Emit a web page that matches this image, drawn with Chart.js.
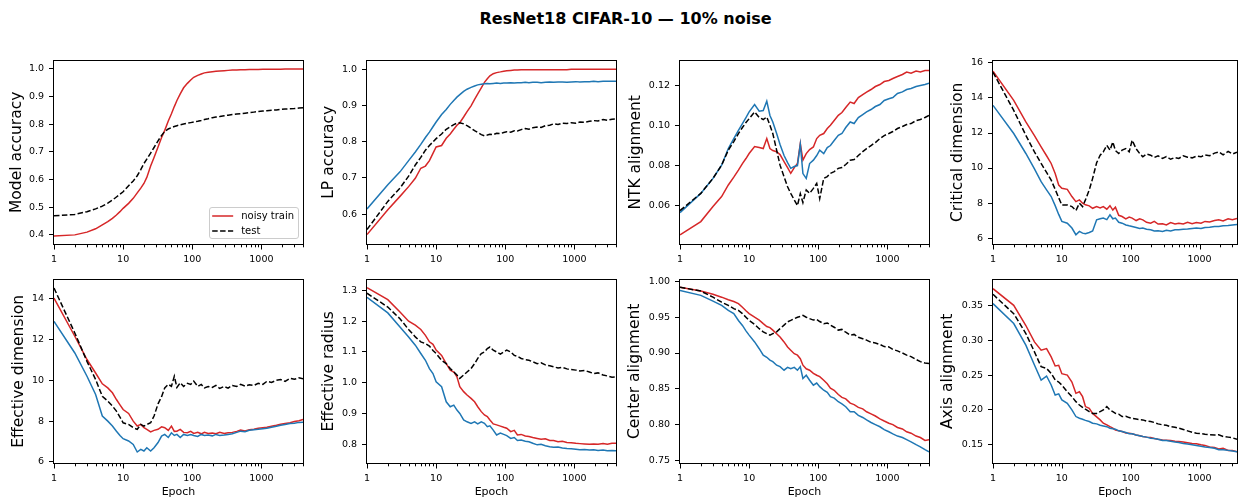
<!DOCTYPE html>
<html><head><meta charset="utf-8">
<script src="https://cdn.jsdelivr.net/npm/chart.js@4.4.1/dist/chart.umd.min.js"></script>
<style>
html,body{margin:0;padding:0;background:#fff;width:1238px;height:499px;overflow:hidden;position:relative}
#title{position:absolute;left:0;width:1251px;top:9px;text-align:center;font:bold 16px "DejaVu Sans";color:#000;line-height:20px}
canvas{position:absolute}
</style></head><body>
<div id="title">ResNet18 CIFAR-10 — 10% noise</div>
<script>
const EPOCHS = [1,2,3,4,5,6,7,8,9,10, 12,14,16,18,20, 22,25,28,32,36, 40,45,50,55,60, 67,75,85,95,105, 120,135,150,170,195, 220,250,290,330,380, 440,500,580,670,780, 900,1050,1200,1400,1650, 1900,2200,2600,3000,3500, 4000];
const X_TICK_LABELS = ['1','10','100','1000'];
const SERIES_LABELS = ['noisy train', 'test'];

const ACC_NOISY = [0.396,0.400,0.410,0.422,0.436,0.448,0.460,0.472,0.484,0.496, 0.514,0.532,0.552,0.569,0.586, 0.608,0.649,0.680,0.718,0.752, 0.778,0.812,0.838,0.864,0.886, 0.910,0.932,0.948,0.960,0.970, 0.977,0.982,0.986,0.988,0.990, 0.992,0.993,0.994,0.995,0.996, 0.996,0.997,0.997,0.998,0.998, 0.998,0.999,0.999,0.999,0.999, 0.999,1.000,1.000,1.000,1.000, 1.000];
const ACC_TEST = [0.469,0.474,0.484,0.494,0.504,0.515,0.526,0.537,0.547,0.556, 0.578,0.595,0.614,0.636,0.658, 0.674,0.696,0.716,0.740,0.760, 0.774,0.783,0.788,0.792,0.795, 0.798,0.801,0.804,0.806,0.808, 0.811,0.814,0.817,0.820,0.824, 0.826,0.828,0.831,0.833,0.835, 0.837,0.838,0.840,0.842,0.844, 0.846,0.848,0.849,0.851,0.852, 0.854,0.855,0.856,0.857,0.859, 0.860];

const LP_NOISY = [0.543,0.612,0.649,0.676,0.699,0.727,0.733,0.748,0.768,0.786, 0.790,0.810,0.822,0.835,0.846, 0.853,0.869,0.884,0.900,0.918, 0.933,0.950,0.965,0.975,0.983, 0.989,0.992,0.994,0.996,0.997, 0.998,0.999,0.999,1.000,1.000, 1.000,1.000,1.000,1.000,1.000, 1.000,1.000,1.000,1.000,1.000, 1.001,1.001,1.001,1.001,1.001, 1.001,1.001,1.001,1.001,1.001, 1.001];
const LP_CLEAN = [0.614,0.681,0.717,0.748,0.772,0.793,0.812,0.827,0.842,0.855, 0.876,0.890,0.904,0.915,0.924, 0.931,0.940,0.946,0.951,0.955, 0.958,0.960,0.961,0.962,0.961, 0.962,0.963,0.962,0.963,0.963, 0.964,0.963,0.964,0.964,0.965, 0.964,0.965,0.965,0.964,0.965, 0.966,0.965,0.966,0.966,0.965, 0.966,0.967,0.966,0.967,0.967, 0.968,0.967,0.968,0.968,0.968, 0.968];
const LP_TEST = [0.557,0.635,0.672,0.705,0.736,0.757,0.777,0.790,0.800,0.809, 0.822,0.835,0.842,0.848,0.852, 0.853,0.850,0.845,0.838,0.831, 0.826,0.820,0.817,0.819,0.821, 0.820,0.824,0.823,0.826,0.828, 0.827,0.831,0.830,0.834,0.837, 0.835,0.839,0.841,0.840,0.845, 0.846,0.850,0.848,0.852,0.851, 0.853,0.852,0.855,0.854,0.857, 0.859,0.858,0.862,0.860,0.863, 0.864];

const NTK_NOISY = [0.0454,0.0520,0.0595,0.0645,0.0703,0.0742,0.0777,0.0810,0.0835,0.0860, 0.0895,0.0890,0.0885,0.0935,0.0885, 0.0875,0.0869,0.0855,0.0820,0.0790, 0.0761,0.0790,0.0810,0.0910,0.0827, 0.0860,0.0880,0.0893,0.0935,0.0951, 0.0960,0.0985,0.1001,0.1025,0.1051, 0.1065,0.1090,0.1117,0.1110,0.1140, 0.1155,0.1167,0.1180,0.1195,0.1205, 0.1220,0.1225,0.1235,0.1245,0.1255, 0.1267,0.1262,0.1272,0.1268,0.1275, 0.1275];
const NTK_CLEAN = [0.0565,0.0661,0.0736,0.0802,0.0885,0.0935,0.0976,0.1010,0.1040,0.1068, 0.1105,0.1072,0.1075,0.1122,0.1050, 0.1018,0.0960,0.0905,0.0850,0.0815, 0.0786,0.0795,0.0800,0.0905,0.0760, 0.0736,0.0810,0.0827,0.0850,0.0877, 0.0860,0.0890,0.0900,0.0925,0.0951, 0.0960,0.0990,0.1018,0.1010,0.1040, 0.1055,0.1068,0.1080,0.1095,0.1105, 0.1125,0.1134,0.1140,0.1160,0.1168, 0.1180,0.1185,0.1195,0.1200,0.1205, 0.1212];
const NTK_TEST = [0.0575,0.0661,0.0736,0.0802,0.0877,0.0920,0.0960,0.0990,0.1015,0.1034, 0.1068,0.1040,0.1030,0.1043,0.1001, 0.0960,0.0877,0.0802,0.0744,0.0694, 0.0661,0.0628,0.0600,0.0660,0.0615, 0.0678,0.0661,0.0686,0.0711,0.0635, 0.0736,0.0745,0.0761,0.0770,0.0786, 0.0790,0.0805,0.0827,0.0830,0.0850, 0.0870,0.0885,0.0900,0.0915,0.0935, 0.0950,0.0960,0.0970,0.0985,0.0995, 0.1005,0.1010,0.1025,0.1030,0.1040, 0.1051];

const CRIT_NOISY = [15.53,13.86,12.63,11.85,11.21,10.70,10.26,9.69,9.03,8.84, 8.78,8.37,8.08,8.18,7.99, 7.90,7.84,7.70,7.80,7.72, 7.80,7.65,7.85,7.60,7.76, 7.30,7.23,7.10,7.20,7.14, 7.00,7.10,7.04,6.90,6.85, 6.95,6.80,6.81,6.75,6.88, 6.80,6.85,6.80,6.90,6.82, 6.89,6.85,6.95,6.92,7.00, 7.04,6.98,7.10,7.05,7.12, 7.14];
const CRIT_CLEAN = [13.58,11.97,10.83,9.95,9.22,8.75,8.37,7.85,7.35,6.95, 6.85,6.57,6.19,6.38,6.28, 6.25,6.32,6.40,7.04,7.10, 7.14,7.05,7.33,7.10,7.14, 6.90,6.85,6.75,6.70,6.66, 6.60,6.55,6.57,6.50,6.47, 6.40,6.42,6.38,6.45,6.40, 6.47,6.47,6.50,6.52,6.55, 6.57,6.55,6.60,6.62,6.66, 6.66,6.70,6.72,6.75,6.78, 6.81];
const CRIT_TEST = [15.47,13.29,11.87,10.92,10.26,9.75,9.31,8.78,8.30,7.89, 7.89,7.80,7.57,7.99,7.80, 8.18,8.75,9.41,10.30,10.73, 10.92,11.30,11.02,11.49,11.00, 10.83,11.02,11.11,10.92,11.59, 11.10,10.83,10.64,10.80,10.73, 10.60,10.70,10.55,10.65,10.50, 10.60,10.55,10.70,10.62,10.58, 10.68,10.64,10.75,10.70,10.85, 10.92,10.75,10.95,10.80,10.90, 10.83];

const EFFDIM_NOISY = [14.03,12.16,11.02,10.36,9.83,9.63,9.39,9.06,8.80,8.57, 8.38,8.00,7.76,7.84,7.68, 7.60,7.47,7.55,7.60,7.72, 7.68,7.55,7.76,7.50,7.51, 7.60,7.45,7.43,7.50,7.40, 7.45,7.38,7.45,7.40,7.42, 7.38,7.45,7.40,7.43,7.45, 7.50,7.56,7.52,7.58,7.60, 7.65,7.68,7.70,7.75,7.80, 7.85,7.89,7.92,7.98,8.02, 8.08];
const EFFDIM_CLEAN = [12.89,11.34,10.20,9.31,8.25,8.00,7.76,7.51,7.30,7.14, 7.03,6.86,6.49,6.62,6.54, 6.70,6.54,6.70,6.95,7.27, 7.35,7.20,7.43,7.30,7.35, 7.20,7.35,7.30,7.35,7.30, 7.25,7.35,7.30,7.32,7.28, 7.35,7.30,7.32,7.35,7.38, 7.45,7.51,7.48,7.55,7.58, 7.60,7.63,7.65,7.70,7.75, 7.80,7.84,7.88,7.90,7.94, 7.95];
const EFFDIM_TEST = [14.52,12.32,10.93,10.04,9.22,8.98,8.74,8.49,8.20,7.92, 7.84,7.68,7.60,7.84,7.76, 7.84,7.92,8.25,8.85,9.20, 9.63,9.80,9.71,10.20,9.65, 9.88,9.70,9.85,9.80,9.96, 9.70,9.80,9.63,9.70,9.65, 9.75,9.60,9.70,9.62,9.75, 9.70,9.80,9.72,9.78,9.75, 9.85,9.80,9.95,9.90,10.00, 10.04,9.95,10.10,10.05,10.12, 10.08];

const RADIUS_NOISY = [1.309,1.270,1.230,1.200,1.187,1.173,1.154,1.133,1.125,1.106, 1.089,1.062,1.041,1.035,1.019, 0.987,0.971,0.960,0.949,0.938, 0.922,0.906,0.895,0.890,0.879, 0.866,0.863,0.859,0.855,0.852, 0.841,0.845,0.830,0.832,0.827, 0.825,0.822,0.819,0.816,0.818, 0.812,0.812,0.808,0.810,0.806, 0.805,0.803,0.802,0.801,0.800, 0.801,0.800,0.802,0.800,0.803, 0.803];
const RADIUS_CLEAN = [1.278,1.227,1.181,1.149,1.122,1.095,1.073,1.046,1.030,1.003, 0.987,0.938,0.922,0.927,0.911, 0.900,0.879,0.873,0.868,0.873, 0.866,0.873,0.868,0.857,0.860, 0.846,0.830,0.836,0.832,0.828, 0.819,0.822,0.812,0.814,0.810, 0.808,0.803,0.798,0.800,0.795, 0.792,0.790,0.791,0.788,0.786, 0.785,0.784,0.782,0.783,0.781, 0.782,0.780,0.781,0.779,0.780, 0.779];
const RADIUS_TEST = [1.291,1.246,1.208,1.173,1.149,1.133,1.127,1.119,1.105,1.095, 1.073,1.062,1.046,1.035,1.025, 1.014,1.025,1.035,1.046,1.062, 1.079,1.095,1.100,1.111,1.116, 1.106,1.100,1.093,1.100,1.106, 1.100,1.089,1.086,1.079,1.075, 1.073,1.068,1.062,1.065,1.058, 1.055,1.052,1.048,1.050,1.045, 1.043,1.041,1.038,1.040,1.035, 1.030,1.032,1.025,1.022,1.018, 1.019];

const CENTER_NOISY = [0.992,0.9865,0.982,0.978,0.9745,0.972,0.969,0.964,0.959,0.955, 0.950,0.946,0.941,0.937,0.9355, 0.932,0.927,0.9225,0.9155,0.9085, 0.904,0.899,0.897,0.892,0.883, 0.878,0.876,0.8715,0.869,0.867, 0.862,0.857,0.851,0.848,0.842, 0.838,0.836,0.830,0.828,0.824, 0.822,0.818,0.815,0.812,0.808, 0.805,0.802,0.800,0.796,0.794, 0.790,0.788,0.784,0.782,0.778, 0.779];
const CENTER_CLEAN = [0.9875,0.9805,0.9725,0.9665,0.9595,0.955,0.9455,0.9385,0.931,0.925, 0.9155,0.906,0.897,0.894,0.890, 0.888,0.883,0.881,0.876,0.880, 0.878,0.880,0.876,0.881,0.8645, 0.869,0.862,0.855,0.858,0.853, 0.848,0.845,0.839,0.837,0.832, 0.829,0.825,0.818,0.818,0.813, 0.810,0.8065,0.803,0.800,0.797, 0.793,0.790,0.787,0.784,0.782, 0.779,0.776,0.772,0.769,0.765, 0.762];
const CENTER_TEST = [0.992,0.9865,0.978,0.971,0.9665,0.962,0.9595,0.955,0.950,0.9455, 0.940,0.934,0.9295,0.927,0.925, 0.927,0.9295,0.934,0.939,0.9435, 0.9455,0.948,0.950,0.951,0.9525, 0.950,0.948,0.946,0.947,0.944, 0.941,0.942,0.939,0.936,0.932, 0.933,0.929,0.925,0.926,0.922, 0.920,0.918,0.915,0.914,0.912, 0.909,0.9085,0.905,0.903,0.900, 0.897,0.895,0.891,0.888,0.886, 0.8855];

const AXIS_NOISY = [0.3738,0.350,0.321,0.2976,0.2857,0.288,0.276,0.263,0.264,0.252, 0.250,0.240,0.2238,0.226,0.219, 0.2048,0.2024,0.195,0.190,0.1857, 0.181,0.1786,0.176,0.174,0.171, 0.170,0.169,0.167,0.1665,0.1657, 0.164,0.163,0.162,0.161,0.1605, 0.159,0.158,0.157,0.1565,0.156, 0.155,0.1548,0.154,0.153,0.152, 0.1514,0.150,0.149,0.147,0.146, 0.144,0.145,0.142,0.142,0.140, 0.1405];
const AXIS_CLEAN = [0.3524,0.3238,0.2929,0.2643,0.2429,0.2486,0.2357,0.2214,0.223,0.2143, 0.2095,0.200,0.1905,0.188,0.1867, 0.185,0.1833,0.181,0.180,0.178, 0.1771,0.176,0.1738,0.173,0.1724, 0.170,0.169,0.1675,0.166,0.1657, 0.164,0.163,0.162,0.161,0.1595, 0.159,0.158,0.1562,0.156,0.155, 0.154,0.1533,0.152,0.151,0.150, 0.149,0.148,0.147,0.146,0.145, 0.143,0.143,0.142,0.141,0.140, 0.1405];
const AXIS_TEST = [0.3657,0.338,0.3095,0.2833,0.262,0.2595,0.2524,0.243,0.240,0.2357, 0.226,0.219,0.2119,0.207,0.2038, 0.201,0.1976,0.195,0.195,0.1976, 0.200,0.2048,0.200,0.1976,0.195, 0.194,0.1905,0.191,0.189,0.188, 0.187,0.186,0.1857,0.184,0.1833, 0.182,0.180,0.1786,0.178,0.176, 0.175,0.1738,0.172,0.170,0.168, 0.1667,0.166,0.165,0.1645,0.164, 0.1643,0.162,0.161,0.160,0.158, 0.1595];

const Y_TICKS_ACC = ['0.4','0.5','0.6','0.7','0.8','0.9','1.0'];
const Y_TICKS_LP = ['0.6','0.7','0.8','0.9','1.0'];
const Y_TICKS_NTK = ['0.06','0.08','0.10','0.12'];
const Y_TICKS_CRIT = ['6','8','10','12','14','16'];
const Y_TICKS_EFFDIM = ['6','8','10','12','14'];
const Y_TICKS_RADIUS = ['0.8','0.9','1.0','1.1','1.2','1.3'];
const Y_TICKS_CENTER = ['0.75','0.80','0.85','0.90','0.95','1.00'];
const Y_TICKS_AXIS = ['0.15','0.20','0.25','0.30','0.35'];

// ---------- styling / layout ----------
const RED = '#d62728', BLUE = '#1f77b4', BLACK = '#000000';
const FONT = 'DejaVu Sans';
Chart.defaults.font.family = FONT;

function line(label, values, color, dashed, order) {
  return {
    label: label,
    data: values.map((y, i) => ({x: EPOCHS[i], y: y})),
    borderColor: color, backgroundColor: color, borderWidth: 1.5,
    borderDash: dashed ? [5.5, 2.4] : [], pointRadius: 0, tension: 0, fill: false, order: order
  };
}

const PANELS = [
  {label: 'Model accuracy', ymin: 0.367, ymax: 1.030, ticks: Y_TICKS_ACC, d: 37, legend: true,
   datasets: [line(SERIES_LABELS[0], ACC_NOISY, RED, false, 2), line(SERIES_LABELS[1], ACC_TEST, BLACK, true, 0)]},
  {label: 'LP accuracy', ymin: 0.517, ymax: 1.025, ticks: Y_TICKS_LP, d: 38,
   datasets: [line('', LP_NOISY, RED, false, 2), line('', LP_CLEAN, BLUE, false, 1), line('', LP_TEST, BLACK, true, 0)]},
  {label: 'NTK alignment', ymin: 0.0408, ymax: 0.1324, ticks: Y_TICKS_NTK, d: 44.5,
   datasets: [line('', NTK_NOISY, RED, false, 2), line('', NTK_CLEAN, BLUE, false, 1), line('', NTK_TEST, BLACK, true, 0)]},
  {label: 'Critical dimension', ymin: 5.66, ymax: 16.13, ticks: Y_TICKS_CRIT, d: 35.5,
   datasets: [line('', CRIT_NOISY, RED, false, 2), line('', CRIT_CLEAN, BLUE, false, 1), line('', CRIT_TEST, BLACK, true, 0)]},
  {label: 'Effective dimension', ymin: 5.95, ymax: 14.93, ticks: Y_TICKS_EFFDIM, d: 35,
   datasets: [line('', EFFDIM_NOISY, RED, false, 2), line('', EFFDIM_CLEAN, BLUE, false, 1), line('', EFFDIM_TEST, BLACK, true, 0)]},
  {label: 'Effective radius', ymin: 0.739, ymax: 1.335, ticks: Y_TICKS_RADIUS, d: 38,
   datasets: [line('', RADIUS_NOISY, RED, false, 2), line('', RADIUS_CLEAN, BLUE, false, 1), line('', RADIUS_TEST, BLACK, true, 0)]},
  {label: 'Center alignment', ymin: 0.7464, ymax: 1.0024, ticks: Y_TICKS_CENTER, d: 45,
   datasets: [line('', CENTER_NOISY, RED, false, 2), line('', CENTER_CLEAN, BLUE, false, 1), line('', CENTER_TEST, BLACK, true, 0)]},
  {label: 'Axis alignment', ymin: 0.1239, ymax: 0.3867, ticks: Y_TICKS_AXIS, d: 45,
   datasets: [line('', AXIS_NOISY, RED, false, 2), line('', AXIS_CLEAN, BLUE, false, 1), line('', AXIS_TEST, BLACK, true, 0)]}
];

const framePlugin = {
  id: 'frame',
  afterDraw(chart, args, opts) {
    const ctx = chart.ctx, a = chart.chartArea, x = chart.scales.x;
    ctx.save();
    ctx.strokeStyle = '#000'; ctx.lineWidth = 1; ctx.setLineDash([]);
    const L = Math.round(a.left) - 0.5, T = Math.round(a.top) - 0.5;
    const R = Math.round(a.right) + 0.5, B = Math.round(a.bottom) + 0.5;
    ctx.strokeRect(L, T, R - L, B - T);
    ctx.beginPath();
    for (let dec = 1; dec <= 1000; dec *= 10) {
      for (let m = 1; m <= 9; m++) {
        const v = m * dec;
        if (v > x.max) break;
        const px = Math.round(x.getPixelForValue(v)) + 0.5;
        const len = m === 1 ? 5 : 2.8;
        ctx.moveTo(px, B); ctx.lineTo(px, B + len);
      }
    }
    ctx.stroke();
    if (opts && opts.legend) {
      const items = chart.data.datasets.filter(d => d.label);
      const fs = 10;
      ctx.font = fs + 'px "' + FONT + '"';
      let tw = 0;
      items.forEach(d => { tw = Math.max(tw, ctx.measureText(d.label).width); });
      const pad = 4, hl = 20, htp = 8, sp = 5;
      const bw = pad + hl + htp + tw + pad;
      const bh = pad * 2 + items.length * fs + (items.length - 1) * sp - 2;
      const bx = a.right - 5 - bw, by = a.bottom - 6 - bh;
      ctx.fillStyle = 'rgba(255,255,255,0.8)';
      ctx.strokeStyle = '#cccccc';
      ctx.beginPath();
      ctx.roundRect(Math.round(bx) + 0.5, Math.round(by) + 0.5, Math.round(bw), Math.round(bh), 2.5);
      ctx.fill(); ctx.stroke();
      items.forEach((d, i) => {
        const cy = by + pad + fs / 2 + i * (fs + sp);
        ctx.strokeStyle = d.borderColor; ctx.lineWidth = 1.5;
        ctx.setLineDash(d.borderDash || []);
        ctx.beginPath(); ctx.moveTo(bx + pad - 1, cy); ctx.lineTo(bx + pad + hl, cy); ctx.stroke();
        ctx.setLineDash([]);
        ctx.fillStyle = '#000'; ctx.textBaseline = 'middle'; ctx.textAlign = 'left';
        ctx.fillText(d.label, bx + pad + hl + htp, cy);
      });
    }
    ctx.restore();
  }
};

const COL_LEFT = [54, 367, 680, 993];
const COL_W = [249, 249, 249, 244];
const COL_XMAX = [4000, 4000, 4000, 3500];
const ROW_TOP = [60, 279];
const PLOT_H = 184, Y_AXIS_W = 60, PAD_T = 10, PAD_R = 8;

PANELS.forEach((p, idx) => {
  const r = Math.floor(idx / 4), c = idx % 4;
  const H = r === 0 ? 32 : 46;
  const W = Y_AXIS_W + COL_W[c] + PAD_R, HT = PAD_T + PLOT_H + H;
  const cv = document.createElement('canvas');
  cv.width = W; cv.height = HT;
  cv.style.width = W + 'px'; cv.style.height = HT + 'px';
  cv.style.left = (COL_LEFT[c] - Y_AXIS_W) + 'px';
  cv.style.top = (ROW_TOP[r] - PAD_T) + 'px';
  document.body.appendChild(cv);
  const titlePad = Math.max(0, Y_AXIS_W - p.d - 15.5 * 1.2 / 2);
  new Chart(cv.getContext('2d'), {
    type: 'line',
    data: {datasets: p.datasets},
    options: {
      responsive: false, animation: false, devicePixelRatio: 1,
      layout: {padding: {top: PAD_T, right: PAD_R, left: 0, bottom: 0}},
      plugins: {legend: {display: false}, tooltip: {enabled: false}, frame: {legend: !!p.legend}},
      scales: {
        x: {
          type: 'logarithmic', min: 1, max: COL_XMAX[c], position: 'bottom',
          afterBuildTicks: s => { s.ticks = X_TICK_LABELS.map(t => ({value: parseFloat(t)})); },
          afterFit: s => { s.height = H; },
          grid: {display: false}, border: {display: false},
          ticks: {autoSkip: false, maxRotation: 0, minRotation: 0, padding: 2, color: '#000',
                  font: {family: FONT, size: 9.5}, callback: (v, i) => X_TICK_LABELS[i]},
          title: {display: r === 1, text: 'Epoch', color: '#000', font: {family: FONT, size: 11},
                  padding: {top: 0, bottom: 10}}
        },
        y: {
          type: 'linear', min: p.ymin, max: p.ymax,
          afterBuildTicks: s => { s.ticks = p.ticks.map(t => ({value: parseFloat(t)})); },
          afterFit: s => { s.width = Y_AXIS_W; },
          grid: {display: true, drawOnChartArea: false, drawTicks: true, tickLength: 5, tickColor: '#000', tickWidth: 1},
          border: {display: false},
          ticks: {autoSkip: false, padding: 5, color: '#000', font: {family: FONT, size: 9.5},
                  callback: (v, i) => p.ticks[i]},
          title: {display: true, text: p.label, color: '#000', font: {family: FONT, size: 15.5},
                  padding: {top: titlePad, bottom: 0}}
        }
      }
    },
    plugins: [framePlugin]
  });
});
</script>
</body></html>
